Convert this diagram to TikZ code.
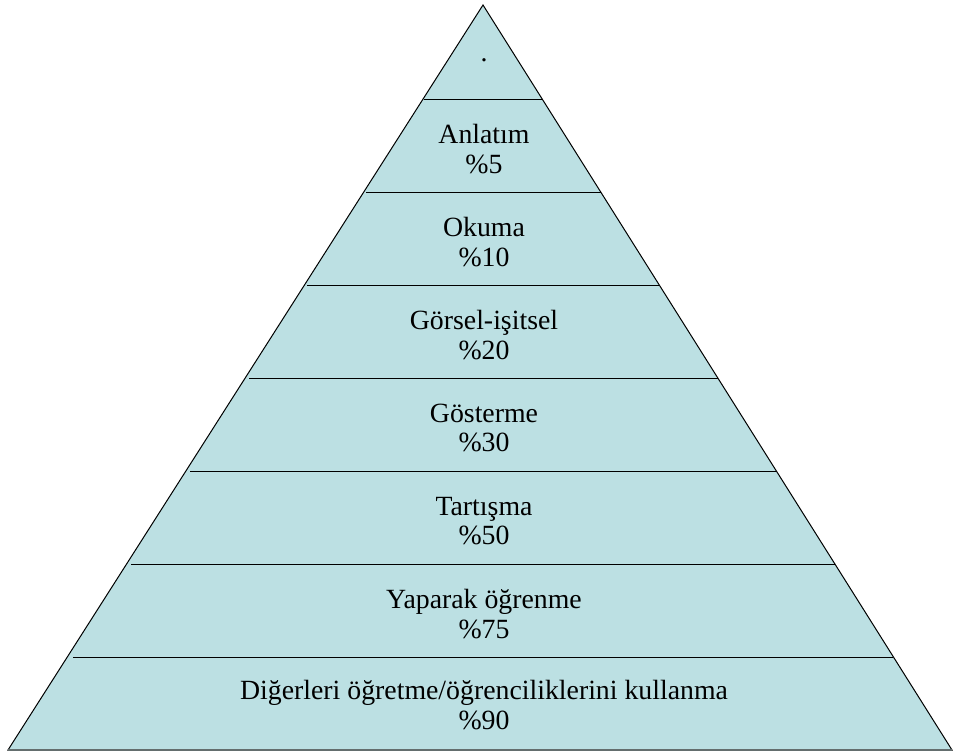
\documentclass[tikz,border=0pt]{standalone}
\usepackage{fontspec}
\setmainfont{Liberation Serif}
\definecolor{pyrfill}{RGB}{188,224,227}
\tikzset{every picture/.style={line width=1pt}}
\tikzset{lbl/.style={inner sep=0.75pt, align=center, font=\fontsize{27.8}{29.5}\selectfont}}

\begin{document}
\begin{tikzpicture}[x=1pt,y=1pt,yscale=-1,xscale=1]
\useasboundingbox (0,0) rectangle (953,752);

%Pyramid
\draw [fill=pyrfill] (483,5) -- (952,750) -- (8,750) -- cycle ;
%Straight Lines
\draw    (424,99) -- (542,99) ;
\draw    (366,192) -- (601,192) ;
\draw    (307,285) -- (659,285) ;
\draw    (249,378) -- (718,378) ;
\draw    (190,471) -- (776,471) ;
\draw    (131,564) -- (835,564) ;
\draw    (73,657) -- (893,657) ;
\draw [color={rgb, 255:red, 100; green, 110; blue, 110 }, line width=1.5]   (8,750) -- (952,750) ;

% Text Node
\node [lbl] (tip) at (484,60) {.};
% Text Node
\node [lbl] (anlatim) at (484,149) {Anlatım\\\%5};
% Text Node
\node [lbl] (okuma) at (484,242) {Okuma\\\%10};
% Text Node
\node [lbl] (gorsel) at (484,335) {Görsel-işitsel\\\%20};
% Text Node
\node [lbl] (gosterme) at (484,428) {Gösterme\\\%30};
% Text Node
\node [lbl] (tartisma) at (484,521) {Tartışma\\\%50};
% Text Node
\node [lbl] (yaparak) at (484,614) {Yaparak öğrenme\\\%75};
% Text Node
\node [lbl] (digerleri) at (484,705) {Diğerleri öğretme/öğrenciliklerini kullanma\\\%90};

\end{tikzpicture}
\end{document}
